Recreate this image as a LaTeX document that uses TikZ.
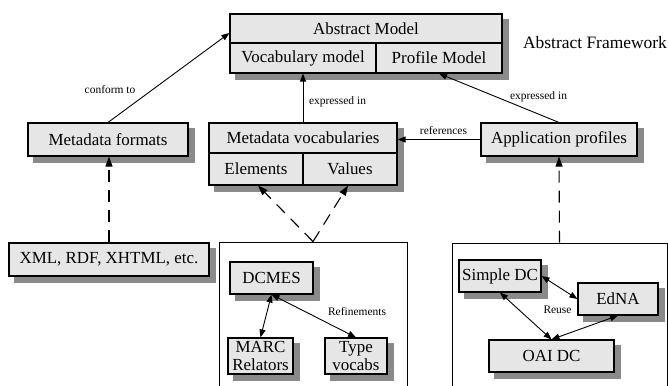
\documentclass[tikz,border=0pt]{standalone}
\usepackage{fontspec}
\setmainfont{Liberation Serif}
\usetikzlibrary{arrows.meta,backgrounds}
\definecolor{boxfill}{HTML}{E6E6E6}
\definecolor{shadowgray}{HTML}{8A8A8A}
\tikzset{
  cell/.style={draw=black, line width=1.1bp, fill=boxfill, inner sep=0pt, align=center,
    font=\fontsize{17}{20}\selectfont},
  lbl/.style={font=\fontsize{11.5}{13}\selectfont, inner sep=0pt},
  arr/.style={-{Triangle[length=8bp,width=6bp]}, line width=0.9bp},
  biarr/.style={{Triangle[length=8bp,width=6bp]}-{Triangle[length=8bp,width=6bp]}, line width=0.9bp},
  dasharr/.style={-{Triangle[length=10bp,width=7bp]}, line width=1.1bp, dash pattern=on 12bp off 8bp},
  container/.style={draw=black, line width=0.9bp, inner sep=0pt},
  shadowfill/.style={fill=shadowgray},
}
\newcommand{\boxshadow}[2]{\fill[shadowfill] ([shift={(6bp,-6bp)}]#1.north west) rectangle ([shift={(6bp,-6bp)}]#2.south east);}
\begin{document}
\begin{tikzpicture}[x=1bp,y=-1bp]
\clip (0,0) rectangle (668,385);
\useasboundingbox (0,0) rectangle (668,385);
% Abstract model
\node[cell, minimum width=272bp, minimum height=29bp] (amtop) at (366,28.5) {Abstract Model};
\node[cell, minimum width=146bp, minimum height=30bp] (vm) at (303,58) {Vocabulary model};
\node[cell, minimum width=126bp, minimum height=30bp] (pm) at (439,58) {Profile Model};
\node[font=\fontsize{17.5}{20}\selectfont, inner sep=0pt] (af) at (595,43) {Abstract Framework};
% middle row
\node[cell, minimum width=160bp, minimum height=33bp] (mf) at (108,139.5) {Metadata formats};
\node[cell, minimum width=188bp, minimum height=30bp] (mv) at (303,138) {Metadata vocabularies};
\node[cell, minimum width=94bp, minimum height=32bp] (el) at (256,169) {Elements};
\node[cell, minimum width=94bp, minimum height=32bp] (va) at (350,169) {Values};
\node[cell, minimum width=156bp, minimum height=33bp] (ap) at (559,139.5) {Application profiles};
% bottom row
\node[cell, minimum width=200bp, minimum height=33bp] (xml) at (109,259.5) {XML, RDF, XHTML, etc.};
\node[container, minimum width=188bp, minimum height=153bp] (lc) at (313,318.5) {};
\node[container, minimum width=215bp, minimum height=152bp] (rc) at (559.5,319) {};
\node[cell, minimum width=83bp, minimum height=32bp] (dc) at (271.5,278) {DCMES};
\node[cell, minimum width=65bp, minimum height=36bp, font=\fontsize{17}{18.5}\selectfont] (marc) at (260.5,356) {MARC\\Relators};
\node[cell, minimum width=62bp, minimum height=36bp, font=\fontsize{17}{18.5}\selectfont] (tv) at (356,356) {Type\\vocabs};
\node[cell, minimum width=82bp, minimum height=32bp] (sdc) at (500,276) {Simple DC};
\node[cell, minimum width=80bp, minimum height=32bp] (edna) at (618,299) {EdNA};
\node[cell, minimum width=125bp, minimum height=32bp] (oai) at (551.5,356) {OAI DC};
% shadows
\begin{scope}[on background layer]
\boxshadow{amtop}{pm}
\boxshadow{mf}{mf}
\boxshadow{mv}{va}
\boxshadow{ap}{ap}
\boxshadow{xml}{xml}
\boxshadow{dc}{dc}
\boxshadow{marc}{marc}
\boxshadow{tv}{tv}
\boxshadow{sdc}{sdc}
\boxshadow{edna}{edna}
\boxshadow{oai}{oai}
\end{scope}
% connectors
\draw[arr] (mf.north) -- ([yshift=-4.5bp]amtop.west);
\node[lbl] (l1) at (110,90) {conform to};
\draw[arr] (mv.north) -- (vm.south);
\node[lbl] (l2) at (337.5,102) {expressed in};
\draw[arr] (ap.north) -- (pm.south);
\node[lbl] (l3) at (538.5,97) {expressed in};
\draw[arr] (ap.west) -- (ap.west -| mv.east);
\node[lbl] (l4) at (443.5,131) {references};
\draw[dasharr] (xml.north) -- (xml.north |- mf.south);
\draw[dasharr] (lc.north) -- ([xshift=2bp]el.south);
\draw[dasharr] (lc.north) -- ([xshift=-2bp]va.south);
\draw[dasharr] (rc.north) -- (ap.south);
\draw[biarr] (dc.south) -- (marc.north);
\draw[biarr] (dc.south) -- (tv.north);
\node[lbl] (l5) at (357,312) {Refinements};
\draw[biarr] (sdc.east) -- (edna.west);
\draw[biarr] (sdc.south) -- (oai.north);
\draw[biarr] (edna.south) -- (oai.north);
\node[lbl] (l6) at (557.5,310) {Reuse};
\end{tikzpicture}
\end{document}
